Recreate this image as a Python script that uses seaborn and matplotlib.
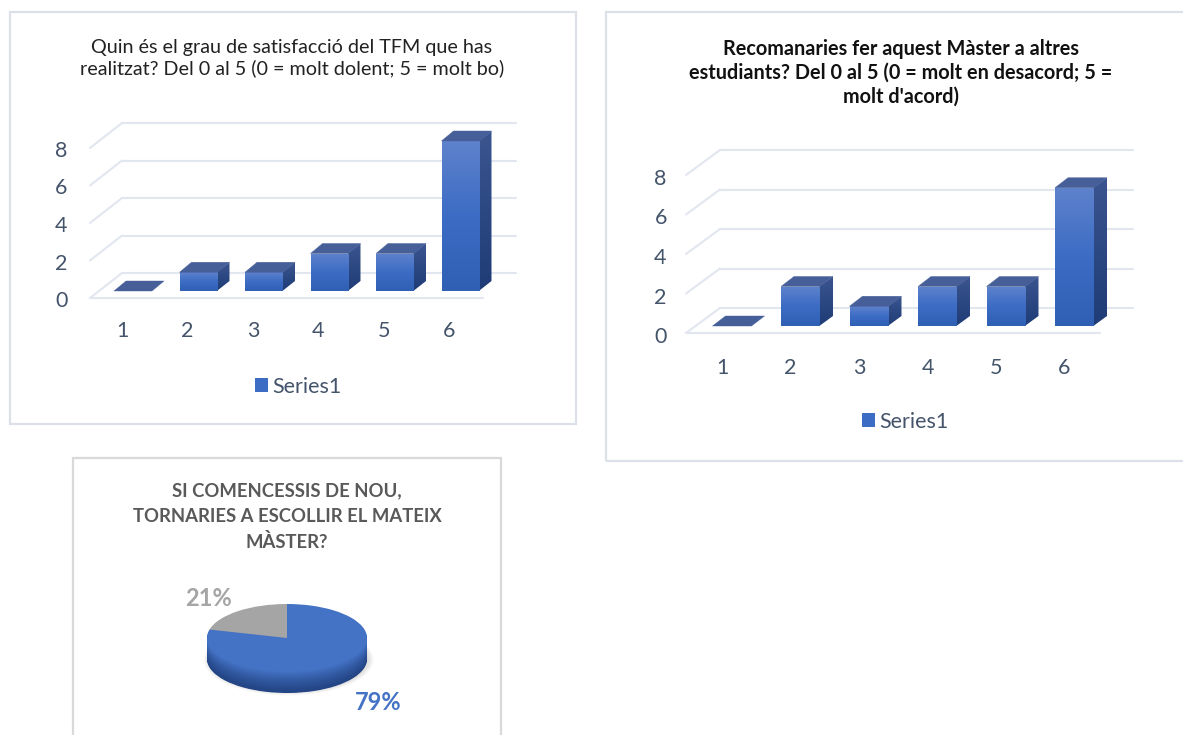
import numpy as np
import matplotlib
matplotlib.use("Agg")
import matplotlib.pyplot as plt
from matplotlib.patches import Rectangle, Polygon, Patch, Ellipse
from matplotlib.colors import LinearSegmentedColormap, to_rgb
from matplotlib.transforms import ScaledTranslation
import seaborn as sns

# ---- data ----
categories = ["1", "2", "3", "4", "5", "6"]
satisfaction_values = [0, 1, 1, 2, 2, 8]
recommend_values = [0, 2, 1, 2, 2, 7]
y_ticks = [0, 2, 4, 6, 8]
pie_no = 21
pie_yes = 79
series_name = "Series1"
title_left = "Quin és el grau de satisfacció del TFM que has\nrealitzat? Del 0 al 5 (0 = molt dolent; 5 = molt bo)"
title_right = "Recomanaries fer aquest Màster a altres\nestudiants? Del 0 al 5 (0 = molt en desacord; 5 =\nmolt d'acord)"
title_pie = "SI COMENCESSIS DE NOU,\nTORNARIES A ESCOLLIR EL MATEIX\nMÀSTER?"

# ---- style ----
W, H = 1183, 735
sns.set_theme(style="white")
plt.rcParams["font.family"] = ["Lato", "DejaVu Sans"]
TICK = "#44546a"
GRID = "#e2e6ef"
FRAME = "#dbe0e9"
BLUE = "#4472c4"
GRAY = "#a5a5a5"
grad = LinearSegmentedColormap.from_list("g", ["#2f60b4", "#3c6cc4", "#5e82cc"])
side_grad = LinearSegmentedColormap.from_list("s", ["#1f3c77", "#3a5590"])
TOP = "#475f99"

fig = plt.figure(figsize=(W / 100, H / 100), dpi=100, facecolor="white")


def fx(x):
    return x / W


def fy(y):
    return 1 - y / H


def frame(x0, y0, x1, y1, color):
    fig.add_artist(Rectangle((fx(x0), fy(y1)), (x1 - x0) / W, (y1 - y0) / H,
                             transform=fig.transFigure, fill=False, ec=color, lw=1.6))


def bar_chart(values, title, title_xy, title_kw, first, step, base, unit, bar_w,
              depth, back_y0, back_x, back_x1, front_x, front_y0, floor_x1,
              ylab_shift, xlab_shift, xpad, legend_xy):
    x0 = first - step / 2
    x1 = first + step * 5.5
    ax = fig.add_axes([fx(x0), fy(base), (x1 - x0) / W, 8 * unit / H])
    ax.patch.set_alpha(0)
    sns.barplot(x=categories, y=values, ax=ax, width=bar_w / step, color=BLUE,
                saturation=1, zorder=5, legend=False, linewidth=0)
    ax.set_xlim(-0.5, 5.5)
    ax.set_ylim(0, 8)
    px_x = lambda p: (p - first) / step
    px_v = lambda p: (base - p) / unit
    dx = depth[0] / step
    dv = depth[1] / unit

    # walls: gridlines from the value ticks
    for v in y_ticks:
        by = back_y0 - v * unit
        fy_ = front_y0 - v * unit
        ax.plot([px_x(back_x), px_x(back_x1)], [px_v(by)] * 2, color=GRID, lw=1.5,
                clip_on=False, zorder=1)
        ax.plot([px_x(front_x), px_x(back_x)], [px_v(fy_), px_v(by)], color=GRID, lw=1.5,
                clip_on=False, zorder=1)
    ax.plot([px_x(front_x), px_x(floor_x1)], [px_v(front_y0)] * 2, color=GRID, lw=1.5,
            clip_on=False, zorder=1)

    # bar faces follow the library's bars
    for bar, v in list(zip(ax.patches, values)):
        l, r = bar.get_x(), bar.get_x() + bar.get_width()
        if v > 0:
            im = ax.imshow(np.linspace(0, 1, 64)[:, None], cmap=grad, origin="lower",
                           extent=(l, r, 0, v), aspect="auto", zorder=6)
            im.set_clip_path(bar)
            im2 = ax.imshow(np.linspace(0, 1, 64)[:, None], cmap=side_grad, origin="lower",
                            extent=(r - 0.01, r + dx, 0, v + dv), aspect="auto", zorder=4)
            side = Polygon([(r - 0.01, 0), (r + dx, dv), (r + dx, v + dv), (r - 0.01, v)], closed=True,
                           fc="none", ec="none", transform=ax.transData, clip_on=False)
            ax.add_patch(side)
            im2.set_clip_path(side)
            im2.set_clip_box(fig.bbox)
        top = Polygon([(l, v), (r, v), (r + dx, v + dv), (l + dx, v + dv)], closed=True,
                      fc=TOP, ec=TOP, lw=0.3, zorder=7, clip_on=False)
        ax.add_patch(top)
    ax.set_xlim(-0.5, 5.5)
    ax.set_ylim(0, 8)

    sns.despine(ax=ax, left=True, bottom=True)
    ax.set_yticks(y_ticks)
    ax.set_yticklabels([str(t) for t in y_ticks])
    ax.tick_params(axis="y", length=0, pad=ylab_shift[0] * 0.72, labelsize=15.5, labelcolor=TICK)
    ax.tick_params(axis="x", length=0, pad=xpad * 0.72, labelsize=15.5, labelcolor=TICK)
    for lab in ax.get_yticklabels():
        lab.set_transform(lab.get_transform() + ScaledTranslation(0, -ylab_shift[1] / 100, fig.dpi_scale_trans))
    for lab in ax.get_xticklabels():
        lab.set_transform(lab.get_transform() + ScaledTranslation(-xlab_shift / 100, 0, fig.dpi_scale_trans))
    ax.set_xlabel("")
    ax.set_ylabel("")
    ax.grid(False)

    fig.legend(handles=[Patch(fc="#3c6cc4", ec="none", label=series_name)], loc="center",
               bbox_to_anchor=(fx(legend_xy[0]), fy(legend_xy[1])), frameon=False,
               fontsize=15.5, labelcolor=TICK, handlelength=0.62, handleheight=0.62,
               handletextpad=0.2, borderpad=0)
    fig.text(fx(title_xy[0]), fy(title_xy[1]), title, ha="center", va="center",
             linespacing=1.25, **title_kw)


frame(10, 12, 576, 424, FRAME)
frame(606, 12, 1190, 461, FRAME)
frame(73, 458, 501, 745, "#d9d9d9")

bar_chart(satisfaction_values, title_left, (292, 58),
          dict(fontsize=14.2, color="#222222"),
          first=133, step=65.5, base=291, unit=18.75, bar_w=38, depth=(12, 10),
          back_y0=273, back_x=122, back_x1=516, front_x=90, front_y0=298, floor_x1=483,
          ylab_shift=(33, 8), xlab_shift=11, xpad=30, legend_xy=(298, 387))

bar_chart(recommend_values, title_right, (901, 73),
          dict(fontsize=14.3, color="#111111", fontweight="bold"),
          first=732, step=68.5, base=326, unit=19.75, bar_w=39, depth=(13, 10),
          back_y0=308, back_x=720, back_x1=1133, front_x=686, front_y0=333, floor_x1=1100,
          ylab_shift=(31, 9), xlab_shift=10, xpad=32, legend_xy=(905, 422))

# ---- pie ----
cx, cy, a, b, rim = 287, 638, 80, 34, 21
axp = fig.add_axes([fx(cx - a * 1.15), fy(cy + b * 1.15 + rim + 15), a * 2.3 / W, (b * 2.3 + rim + 15) / H])
axp.patch.set_alpha(0)
rim_units = rim / b
for i in range(6):
    axp.add_patch(Ellipse((0.02, -rim_units - 0.02), 2.12 - i * 0.03, 2.1 - i * 0.05, fc="#777777",
                          alpha=0.05, ec="none"))
low, high = np.array(to_rgb("#234585")), np.array(to_rgb("#4472c4"))
for d in np.linspace(rim_units, 0.03, 30):
    t = 1 - d / rim_units
    axp.pie([pie_no, pie_yes], colors=[GRAY, tuple(low + (high - low) * t ** 1.3)],
            startangle=90, center=(0, -d), radius=1, wedgeprops=dict(lw=0))
wedges, _ = axp.pie([pie_no, pie_yes], colors=[GRAY, BLUE], startangle=90, radius=1,
                    wedgeprops=dict(lw=0))
axp.set_aspect("auto")
axp.set_xlim(-1.15, 1.15)
axp.set_ylim(-1.15 - rim_units - 15 / b, 1.15)
axp.axis("off")

fig.text(fx(287), fy(517), title_pie, ha="center", va="center", fontsize=13.3,
         fontweight="bold", color="#595959", linespacing=1.58)
fig.text(fx(209), fy(598), f"{pie_no}%", ha="center", va="center", fontsize=17,
         fontweight="bold", color=GRAY)
fig.text(fx(378), fy(703), f"{pie_yes}%", ha="center", va="center", fontsize=17,
         fontweight="bold", color=BLUE)

fig.savefig("out.png", dpi=100, facecolor="white")
